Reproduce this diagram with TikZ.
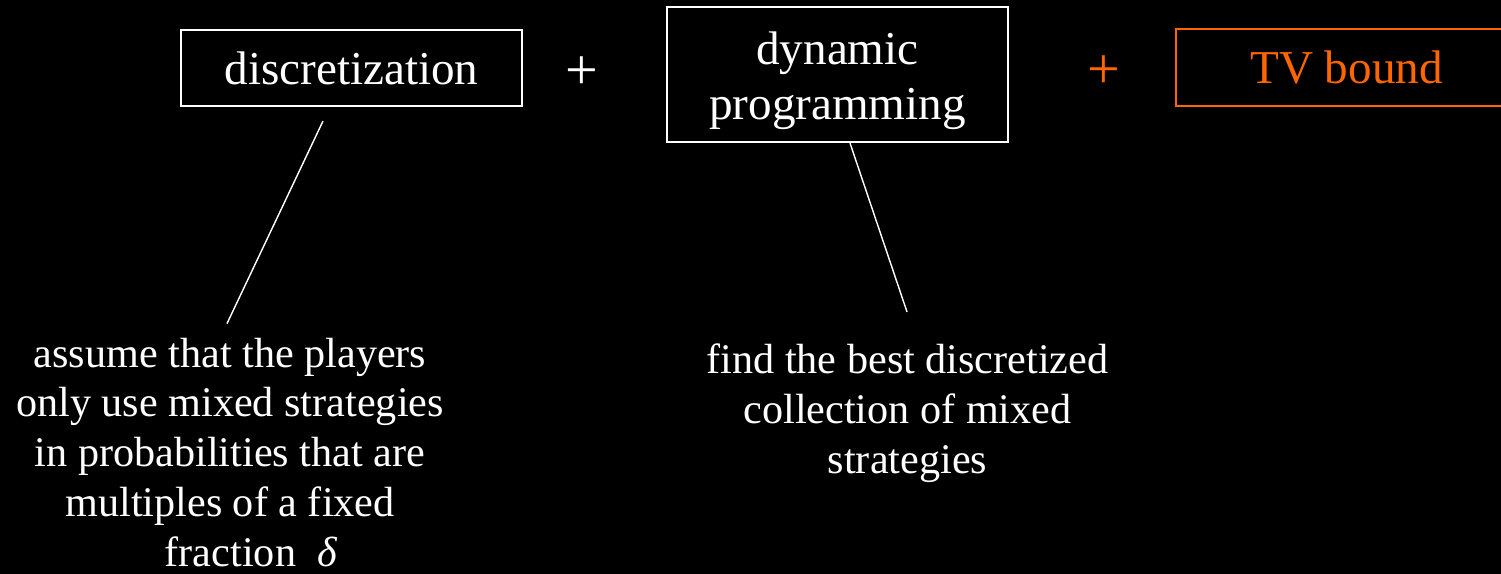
\documentclass[tikz,border=0pt]{standalone}
\usepackage{fontspec}
\setmainfont{Liberation Serif}
\usetikzlibrary{calc}
\definecolor{tvorange}{RGB}{255,102,0}
\begin{document}
\begin{tikzpicture}[x=0.01cm, y=-0.01cm,
    main node/.style={draw=white, line width=0.6pt, text=white, minimum width=3.41cm, inner sep=0pt, align=center, font=\fontsize{13.4}{15.6}\selectfont},
    note node/.style={text=white, inner sep=0pt, align=center, font=\fontsize{12}{14.2}\selectfont},
    plus node/.style={text=white, inner sep=0pt, font=\fontsize{16.5}{18}\selectfont},
    link/.style={draw=white, line width=0.4pt}]
                \useasboundingbox (0,0) rectangle (1501,574);
                \fill[black] (0,0) rectangle (1501,574);
                \clip (0,0) rectangle (1501,574);

                \node[main node, minimum height=0.76cm] at (351.5, 68) (disc) {discretization};
                \node[main node, minimum height=1.35cm] at (837.5, 74.5) (dp) {\rule{0pt}{0.46cm}dynamic\\programming};
                \node[main node, minimum height=0.77cm, draw=tvorange, text=tvorange] at (1346.5, 67.5) (tv) {TV bound};

                \node[plus node] at (581.5, 73) (p1) {+};
                \node[plus node, text=tvorange] at (1104, 72) (p2) {+};

                \node[note node] at (230, 452.5) (assume) {assume that the players\\only use mixed strategies\\in probabilities that are\\multiples of a fixed\\\hspace*{1em}fraction\hspace{0.5em}\textit{δ}};
                \node[note node] at (907.5, 413) (find) {find the best discretized\\collection of mixed\\strategies};

            \path ($(disc.south)+(-28.5,14)$) edge[link] ($(assume.north)+(-3,-13.5)$);
            \path ($(dp.south)+(12.5,0)$) edge[link] ($(find.north)+(-0.5,-31)$);

\end{tikzpicture}
\end{document}
